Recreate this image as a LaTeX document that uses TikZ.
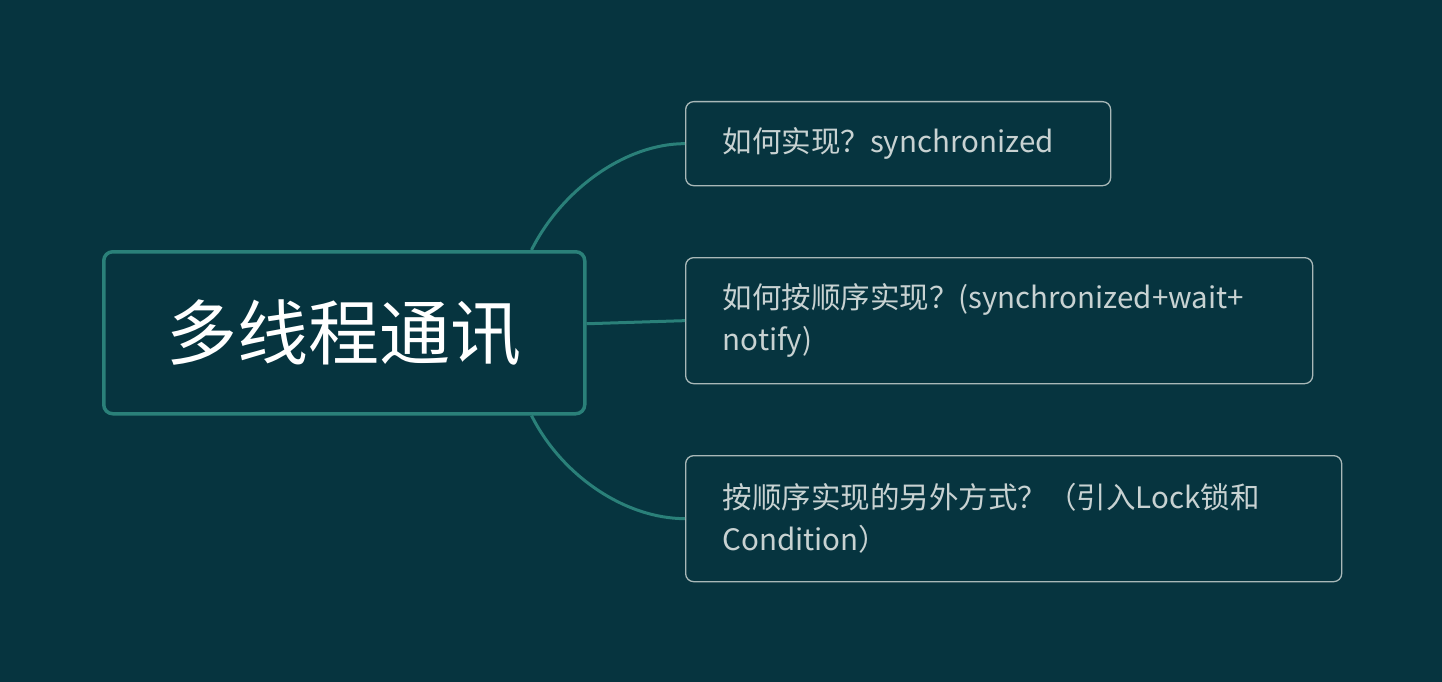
\documentclass[tikz,border=0pt]{standalone}
\usepackage{fontspec}
\setmainfont{Noto Sans CJK SC}
\definecolor{bg}{HTML}{06343F}
\definecolor{teal}{HTML}{2A8079}
\definecolor{cb}{HTML}{A8B8B8}
\definecolor{ct}{HTML}{C8D2D2}
\begin{document}
\begin{tikzpicture}[x=1pt,y=-1pt,
  leaf/.style={draw=cb,line width=1.3pt,rounded corners=8pt,text=ct,align=left,anchor=north west,inner xsep=37pt,font=\fontsize{29.5}{42}\selectfont},
  link/.style={draw=teal,line width=3pt}]
\fill[bg] (0,0) rectangle (1442,682);
\useasboundingbox (0,0) rectangle (1442,682);
\node[draw=teal,line width=3.5pt,rounded corners=9pt,minimum width=481pt,minimum height=162pt,text=white,font=\fontsize{71}{80}\selectfont,anchor=north west] (root) at (102,250) {多线程通讯};
\node[leaf,minimum width=425pt,minimum height=84pt,text width=351pt] (a) at (685,101) {如何实现？synchronized};
\node[leaf,minimum width=627pt,minimum height=126pt,text width=553pt] (b) at (685,257) {如何按顺序实现？(synchronized+wait+\\notify)};
\node[leaf,minimum width=656pt,minimum height=126pt,text width=582pt] (c) at (685,455) {按顺序实现的另外方式？（引入Lock锁和\\Condition）};
\draw[link] ([xshift=-55pt]root.north east) .. controls ([xshift=-25pt,yshift=60pt]root.north east) and ([xshift=-60pt]a.west) .. (a.west);
\draw[link] ([yshift=9pt]root.east) -- (b.west);
\draw[link] ([xshift=-55pt]root.south east) .. controls ([xshift=-25pt,yshift=-60pt]root.south east) and ([xshift=-60pt]c.west) .. (c.west);
\end{tikzpicture}
\end{document}
